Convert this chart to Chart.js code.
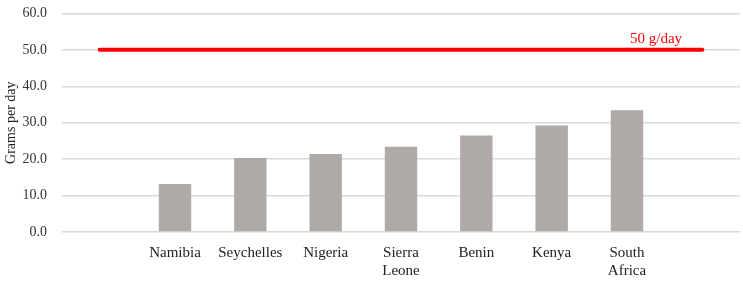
<!DOCTYPE html>
<html>
<head>
<meta charset="utf-8">
<script src="https://cdn.jsdelivr.net/npm/chart.js@4"></script>
<style>
  html, body { margin: 0; padding: 0; background: #fff; overflow: hidden; }
  #wrap { width: 743px; height: 294px; margin-top: -10px; }
</style>
</head>
<body>
<div id="wrap"><canvas id="chart"></canvas></div>
<script>
var countries = ['', 'Namibia', 'Seychelles', 'Nigeria', ['Sierra', 'Leone'], 'Benin', 'Kenya', ['South', 'Africa'], ''];
var gramsPerDay = [null, 13.2, 20.3, 21.4, 23.4, 26.5, 29.2, 33.4, null];
var target = [50, 50, 50, 50, 50, 50, 50, 50, 50];
var targetLabel = '50 g/day';

var serif = '"Liberation Serif", "DejaVu Serif", serif';

var targetText = {
    id: 'targetText',
    afterDatasetsDraw: function(chart) {
        var ctx = chart.ctx;
        var x = chart.scales.x.getPixelForValue(7);
        var y = chart.scales.y.getPixelForValue(50);
        ctx.save();
        ctx.fillStyle = '#ff0000';
        ctx.font = '15px ' + serif;
        ctx.textAlign = 'left';
        ctx.textBaseline = 'bottom';
        ctx.fillText(targetLabel, x + 3, y - 3);
        ctx.restore();
    }
};

new Chart(document.getElementById('chart'), {
    type: 'bar',
    data: {
        labels: countries,
        datasets: [{
            type: 'line',
            data: target,
            borderColor: '#ff0000',
            borderWidth: 4,
            pointRadius: 0,
            borderCapStyle: 'round'
        }, {
            data: gramsPerDay,
            backgroundColor: '#afaaa7',
            categoryPercentage: 1,
            barPercentage: 0.43
        }]
    },
    options: {
        responsive: true,
        maintainAspectRatio: false,
        animation: false,
        layout: { padding: { top: -2, right: 3, left: 3, bottom: 0 } },
        plugins: { legend: { display: false }, tooltip: { enabled: false } },
        scales: {
            x: {
                grid: { display: false },
                border: { display: false },
                ticks: { color: '#222', font: { family: serif, size: 15, lineHeight: 1.2 }, maxRotation: 0, autoSkip: false, padding: 4 }
            },
            y: {
                min: 0,
                max: 60,
                afterFit: function(scale) { scale.width = 59; },
                ticks: {
                    stepSize: 10,
                    color: '#333',
                    font: { family: serif, size: 14 },
                    padding: 15,
                    callback: function(v) { return v.toFixed(1); }
                },
                grid: { color: '#d9d9d9', lineWidth: 1.5, drawTicks: false },
                border: { display: false },
                title: { display: true, text: 'Grams per day', color: '#222', font: { family: serif, size: 14 }, padding: 0 }
            }
        }
    },
    plugins: [targetText]
});
</script>
</body>
</html>
